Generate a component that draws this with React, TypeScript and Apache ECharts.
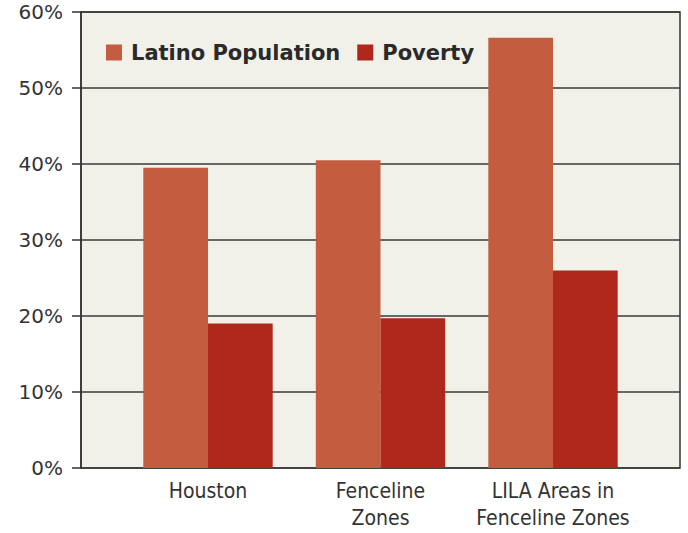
import React, { useEffect, useRef } from "react";
import * as echarts from "echarts";

const categories = ["Houston", "Fenceline\nZones", "LILA Areas in\nFenceline Zones"];
const latinoPopulation = [39.5, 40.5, 56.6];
const poverty = [19.0, 19.7, 26.0];
const seriesNames = ["Latino Population", "Poverty"];
const yTicks = { min: 0, max: 60, interval: 10 };

export default function App() {
  const ref = useRef<HTMLDivElement>(null);
  useEffect(() => {
    if (!ref.current) return;
    const chart = echarts.init(ref.current, null, { renderer: "svg" });
    chart.setOption({
      animation: false,
      backgroundColor: "#ffffff",
      legend: {
        left: 106,
        top: 42,
        padding: 0,
        itemWidth: 16,
        itemHeight: 16,
        itemGap: 17,
        icon: "rect",
        data: seriesNames,
        textStyle: {
          fontFamily: "DejaVu Sans",
          fontWeight: "bold",
          fontSize: 21,
          color: "#2a2a2a",
          lineHeight: 16,
          padding: [0, 0, 0, 4],
        },
      },
      grid: [
        {
          left: 81,
          right: 8,
          top: 12,
          bottom: 65,
          show: true,
          backgroundColor: "#f1f0e9",
          borderColor: "#333333",
          borderWidth: 1.5,
        },
        {
          left: 121.75,
          right: 48.75,
          top: 12,
          bottom: 65,
        },
      ],
      xAxis: [
        {
          type: "value",
          gridIndex: 0,
          min: 0,
          max: 1,
          show: false,
        },
        {
          type: "category",
          gridIndex: 1,
          data: categories,
          axisLine: { show: false },
          axisTick: { show: false },
          axisLabel: {
            interval: 0,
            margin: 9,
            fontFamily: "Liberation Sans Narrow, DejaVu Sans Condensed, sans-serif",
            fontSize: 21,
            lineHeight: 27,
            color: "#333333",
          },
        },
      ],
      yAxis: [
        {
          type: "value",
          gridIndex: 0,
          min: yTicks.min,
          max: yTicks.max,
          interval: yTicks.interval,
          axisLine: { show: true, lineStyle: { color: "#333333", width: 1.5 } },
          axisTick: { show: true, length: 9, lineStyle: { color: "#333333", width: 1.5 } },
          splitLine: { show: true, lineStyle: { color: "#3a3a3a", width: 1.5 } },
          axisLabel: {
            formatter: "{value}%",
            margin: 18,
            fontFamily: "DejaVu Sans",
            fontSize: 20,
            color: "#333333",
          },
        },
        {
          type: "value",
          gridIndex: 1,
          min: yTicks.min,
          max: yTicks.max,
          interval: yTicks.interval,
          show: false,
        },
      ],
      series: [
        {
          name: seriesNames[0],
          type: "bar",
          xAxisIndex: 1,
          yAxisIndex: 1,
          data: latinoPopulation,
          barGap: "0%",
          barCategoryGap: "25%",
          itemStyle: { color: "#c45c40" },
        },
        {
          name: seriesNames[1],
          type: "bar",
          xAxisIndex: 1,
          yAxisIndex: 1,
          data: poverty,
          barGap: "0%",
          barCategoryGap: "25%",
          itemStyle: { color: "#b0271b" },
        },
      ],
    });
    return () => chart.dispose();
  }, []);
  return <div ref={ref} style={{ width: 688, height: 533, position: "absolute", left: 0, top: 0 }} />;
}
